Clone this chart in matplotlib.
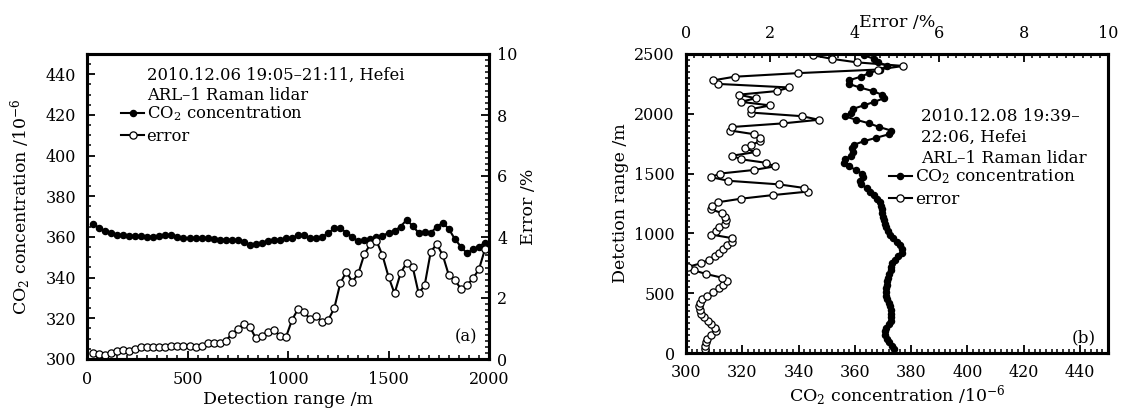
import numpy as np
import matplotlib
matplotlib.use("Agg")
import matplotlib.pyplot as plt
from matplotlib.ticker import MultipleLocator
from matplotlib.lines import Line2D

plt.rcParams['font.family'] = ['DejaVu Serif']
plt.rcParams['mathtext.fontset'] = 'dejavuserif'

# ---------------- data: panel (a) ----------------
step_a = 30  # m
co2_a = [366.5, 364.5, 362.8, 361.8, 361.0, 361.0, 360.7, 360.5, 360.3, 360.2,
         360.2, 360.5, 361.0, 361.0, 360.0, 359.5, 359.3, 359.3, 359.3, 359.3,
         358.8, 358.6, 358.6, 358.6, 358.3, 357.4, 356.3, 356.5, 357.2, 358.0,
         358.6, 358.6, 359.4, 359.4, 361.0, 360.8, 359.4, 359.6, 360.2, 361.8,
         364.3, 364.3, 362.2, 360.0, 357.8, 358.3, 358.8, 359.8, 360.6, 362.0,
         363.0, 365.1, 368.4, 365.5, 362.0, 362.6, 362.0, 365.0, 367.0, 364.0,
         359.0, 355.3, 352.0, 354.0, 355.3, 357.2]
err_a = [0.19, 0.16, 0.14, 0.19, 0.27, 0.29, 0.25, 0.34, 0.40, 0.40,
         0.40, 0.40, 0.40, 0.42, 0.42, 0.42, 0.42, 0.40, 0.44, 0.53,
         0.51, 0.51, 0.60, 0.81, 0.98, 1.14, 1.06, 0.68, 0.76, 0.90,
         0.95, 0.76, 0.72, 1.28, 1.64, 1.55, 1.30, 1.42, 1.22, 1.28,
         1.66, 2.48, 2.86, 2.53, 2.81, 3.44, 3.77, 3.88, 3.40, 2.70,
         2.15, 2.81, 3.16, 3.03, 2.15, 2.42, 3.51, 3.77, 3.40, 2.75,
         2.59, 2.30, 2.42, 2.64, 2.94, 3.60]
range_a = np.arange(1, len(co2_a) + 1) * step_a

# ---------------- data: panel (b) ----------------
step_b = 30  # m
co2_b = [373.8, 373.2, 372.3, 371.5, 370.8, 370.7, 371.2, 372.3, 372.9, 373.0,
         372.9, 372.9, 372.6, 372.0, 371.3, 371.0, 371.0, 371.1, 371.4, 371.6,
         371.8, 372.2, 372.8, 373.0, 373.3, 374.2, 375.5, 376.6, 376.8, 376.0,
         375.0, 373.6, 372.5, 371.8, 371.0, 370.6, 370.3, 370.0, 369.8, 369.7,
         369.3, 368.8, 368.0, 366.8, 365.5, 364.2, 362.2, 361.8, 362.9, 362.5,
         360.5, 357.9, 356.0, 356.6, 358.6, 359.2, 359.0, 359.6, 363.1, 367.7,
         372.3, 372.9, 368.6, 365.1, 360.5, 356.4, 358.6, 359.2, 363.1, 367.0,
         370.3, 369.6, 366.4, 361.8, 357.9, 357.9, 362.1, 365.1, 369.0, 371.6,
         368.4, 366.8, 363.1]
err_b = [0.45, 0.45, 0.48, 0.50, 0.60, 0.70, 0.68, 0.60, 0.52, 0.42,
         0.36, 0.32, 0.30, 0.32, 0.38, 0.50, 0.65, 0.78, 0.88, 0.98,
         0.85, 0.48, 0.20, 0.05, 0.35, 0.55, 0.68, 0.78, 0.88, 0.98,
         1.08, 1.10, 0.60, 0.70, 0.78, 0.92, 0.95, 0.92, 0.85, 0.60,
         0.62, 0.75, 1.30, 2.05, 2.90, 2.80, 2.20, 1.00, 0.60, 0.80,
         1.60, 2.10, 1.90, 1.30, 1.10, 1.65, 1.40, 1.55, 1.75, 1.75,
         1.60, 1.05, 1.10, 2.30, 3.15, 2.75, 1.55, 1.55, 2.00, 1.30,
         1.65, 1.25, 2.15, 2.45, 0.75, 0.65, 1.15, 2.65, 4.55, 5.15,
         4.05, 3.45, 3.00]
alt_b = np.arange(1, len(co2_b) + 1) * step_b

title_a = ["2010.12.06 19:05\u201321:11, Hefei", "ARL\u20131 Raman lidar"]
title_b = ["2010.12.08 19:39\u2013", "22:06, Hefei", "ARL\u20131 Raman lidar"]
leg_labels = ["CO$_2$ concentration", "error"]

FS_TICK = 11.5
FS_LAB = 12.5
FS_LEG_A = 11.8
FS_LEG_B = 12.2

fig = plt.figure(figsize=(11.31, 4.18), dpi=100)
W, H = 1131, 418


def box(x0, x1, ytop, ybot):
    return [x0 / W, (H - ybot) / H, (x1 - x0) / W, (ybot - ytop) / H]


def style(ax, xpad=8, ypad=8):
    for s in ax.spines.values():
        s.set_linewidth(2.2)
    ax.tick_params(which='major', direction='in', length=6, width=1.3,
                   labelsize=FS_TICK)
    ax.tick_params(which='minor', direction='in', length=3, width=1.1)
    ax.tick_params(axis='x', which='major', pad=xpad)
    ax.tick_params(axis='y', which='major', pad=ypad)


filled = dict(color='k', marker='o', ms=4.4, lw=1.5, mfc='k', mec='k')
hollow = dict(color='k', marker='o', ms=5.2, lw=1.5, mfc='white', mec='k', mew=0.9)

# ---------------- panel (a) ----------------
ax1 = fig.add_axes(box(87, 489, 54, 359))
ax1.plot(range_a, co2_a, **filled)
ax1.set_xlim(0, 2000)
ax1.set_ylim(300, 450)
ax1.set_xticks(np.arange(0, 2001, 500))
ax1.set_yticks(np.arange(300, 441, 20))
ax1.xaxis.set_minor_locator(MultipleLocator(50))
ax1.yaxis.set_minor_locator(MultipleLocator(5))
style(ax1, xpad=9, ypad=8)
ax1.set_xlabel("Detection range /m", fontsize=FS_LAB, labelpad=2)
ax1.set_ylabel("CO$_2$ concentration /10$^{-6}$", fontsize=FS_LAB, labelpad=9)

ax1r = ax1.twinx()
ax1r.plot(range_a, err_a, **hollow)
ax1r.set_ylim(0, 10)
ax1r.set_yticks(np.arange(0, 11, 2))
ax1r.yaxis.set_minor_locator(MultipleLocator(0.2))
style(ax1r, ypad=6)
ax1r.set_ylabel("Error /%", fontsize=FS_LAB, labelpad=2)

for i, t in enumerate(title_a):
    ax1.text(0.149, 0.931 - i * 0.068, t, transform=ax1.transAxes,
             fontsize=FS_LEG_A, ha='left', va='center')
h_a = [Line2D([], [], **filled), Line2D([], [], **hollow)]
ax1r.legend(h_a, leg_labels, loc='upper left', bbox_to_anchor=(0.085, 0.835),
            frameon=False, fontsize=FS_LEG_A, handlelength=1.4,
            handletextpad=0.15, borderpad=0, borderaxespad=0,
            labelspacing=0.3, numpoints=1)
ax1r.text(0.942, 0.074, "(a)", transform=ax1r.transAxes, fontsize=FS_LEG_A,
          ha='center', va='center')

# ---------------- panel (b) ----------------
ax2 = fig.add_axes(box(686, 1108, 54, 353))
ax2.plot(co2_b, alt_b, **filled)
ax2.set_xlim(300, 450)
ax2.set_ylim(0, 2500)
ax2.set_xticks(np.arange(300, 441, 20))
ax2.set_yticks(np.arange(0, 2501, 500))
ax2.xaxis.set_minor_locator(MultipleLocator(2))
ax2.yaxis.set_minor_locator(MultipleLocator(50))
style(ax2, xpad=8, ypad=8)
ax2.set_xlabel("CO$_2$ concentration /10$^{-6}$", fontsize=FS_LAB, labelpad=2)
ax2.set_ylabel("Detction range /m", fontsize=FS_LAB, labelpad=4)

ax2t = ax2.twiny()
ax2t.plot(err_b, alt_b, **hollow)
ax2t.set_xlim(0, 10)
ax2t.set_xticks(np.arange(0, 11, 2))
ax2t.xaxis.set_minor_locator(MultipleLocator(0.2))
style(ax2t, xpad=9)
ax2t.set_xlabel("Error /%", fontsize=FS_LAB, labelpad=-2)

for i, t in enumerate(title_b):
    ax2t.text(0.558, 0.791 - i * 0.07, t, transform=ax2t.transAxes,
              fontsize=FS_LEG_B, ha='left', va='center')
h_b = [Line2D([], [], **filled), Line2D([], [], **hollow)]
ax2t.legend(h_b, leg_labels, loc='upper left', bbox_to_anchor=(0.48, 0.62),
            frameon=False, fontsize=FS_LEG_B, handlelength=1.4,
            handletextpad=0.15, borderpad=0, borderaxespad=0,
            labelspacing=0.28, numpoints=1)
ax2t.text(0.943, 0.052, "(b)", transform=ax2t.transAxes, fontsize=FS_LEG_B,
          ha='center', va='center')

fig.savefig("out.png", dpi=100)
